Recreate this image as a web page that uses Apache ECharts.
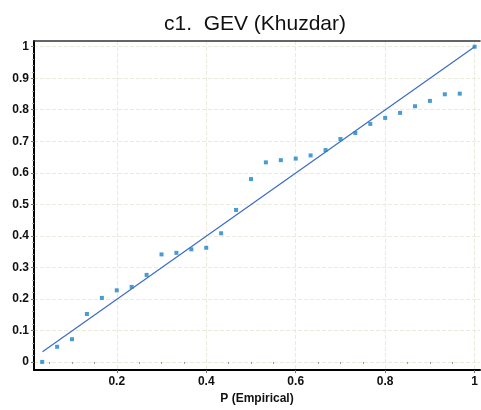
<!DOCTYPE html>
<html>
<head>
<meta charset="utf-8">
<script src="https://cdn.jsdelivr.net/npm/echarts@6/dist/echarts.min.js"></script>
<style>
html,body{margin:0;padding:0;background:#fff;}
#chart{width:481px;height:410px;}
</style>
</head>
<body>
<div id="chart"></div>
<script>
// Empirical probabilities (x) and GEV probabilities (y)
var pEmpirical = [0.0333,0.0667,0.1000,0.1333,0.1667,0.2000,0.2333,0.2667,0.3000,0.3333,
                  0.3667,0.4000,0.4333,0.4667,0.5000,0.5333,0.5667,0.6000,0.6333,0.6667,
                  0.7000,0.7333,0.7667,0.8000,0.8333,0.8667,0.9000,0.9333,0.9667,1.0000];
var pGEV = [0.000,0.048,0.072,0.152,0.203,0.227,0.238,0.276,0.341,0.346,
            0.357,0.362,0.408,0.482,0.580,0.633,0.640,0.645,0.655,0.672,
            0.707,0.726,0.755,0.774,0.790,0.811,0.828,0.849,0.851,1.000];
// fitted 1:1 line
var lineX = [0.034, 1.0];
var lineY = [0.032, 1.0];

var xTicks = [0.2, 0.4, 0.6, 0.8, 1];
var xMinorTicks = [0.05,0.1,0.15,0.25,0.3,0.35,0.45,0.5,0.55,0.65,0.7,0.75,0.85,0.9,0.95];
var yTicks = [0, 0.1, 0.2, 0.3, 0.4, 0.5, 0.6, 0.7, 0.8, 0.9, 1];
var yMinorTicks = [];
for (var k = 1; k < 50; k++) { if (k % 5 !== 0) yMinorTicks.push(Math.round(k * 2) / 100); }

var titleText = 'c1.  GEV (Khuzdar)';
var xName = 'P (Empirical)';

var pts = pEmpirical.map(function (x, i) { return [x, pGEV[i]]; });
var fit = lineX.map(function (x, i) { return [x, lineY[i]]; });

var XMIN = 0.015, XMAX = 1.012, YMIN = -0.026, YMAX = 1.018;
var gridColor = '#ebebdb';
var fontFam = '"Liberation Sans", Arial, sans-serif';

var chart = echarts.init(document.getElementById('chart'), null, {renderer: 'canvas'});
chart.setOption({
  animation: false,
  backgroundColor: '#ffffff',
  title: {
    text: titleText,
    left: 250, textAlign: 'center', top: 9,
    textStyle: {fontFamily: fontFam, fontSize: 21, fontWeight: 'normal', color: '#111'}
  },
  grid: {left: 34, right: 0, top: 41, bottom: 36, containLabel: false},
  xAxis: [
    {
      type: 'value', min: XMIN, max: XMAX, position: 'bottom',
      axisLine: {show: true, onZero: false, lineStyle: {color: '#000', width: 2}},
      axisTick: {show: true, customValues: xTicks, length: 3, lineStyle: {color: '#777'}},
      axisLabel: {customValues: xTicks, color: '#111', fontFamily: fontFam, fontSize: 12, fontWeight: 'bold', margin: 6},
      splitLine: {show: true, lineStyle: {color: gridColor, type: 'dashed', width: 1}},
      name: xName, nameLocation: 'middle', nameGap: 20,
      nameTextStyle: {color: '#111', fontFamily: fontFam, fontSize: 12, fontWeight: 'bold'}
    },
    {
      type: 'value', min: XMIN, max: XMAX, position: 'bottom',
      axisLine: {show: false},
      axisTick: {show: true, customValues: xMinorTicks, length: 2, lineStyle: {color: '#999'}},
      axisLabel: {show: false},
      splitLine: {show: false}
    },
    {
      type: 'value', min: XMIN, max: XMAX, position: 'top',
      axisLine: {show: true, onZero: false, lineStyle: {color: '#333', width: 1.5}},
      axisTick: {show: false}, axisLabel: {show: false}, splitLine: {show: false}
    }
  ],
  yAxis: [
    {
      type: 'value', min: YMIN, max: YMAX, position: 'left',
      axisLine: {show: true, onZero: false, lineStyle: {color: '#000', width: 2}},
      axisTick: {show: true, customValues: yTicks, length: 3, lineStyle: {color: '#777'}},
      axisLabel: {customValues: yTicks, color: '#111', fontFamily: fontFam, fontSize: 12, fontWeight: 'bold', margin: 5},
      splitLine: {show: true, lineStyle: {color: gridColor, type: 'dashed', width: 1}}
    },
    {
      type: 'value', min: YMIN, max: YMAX, position: 'left',
      axisLine: {show: false},
      axisTick: {show: true, customValues: yMinorTicks, length: 2, lineStyle: {color: '#aaa'}},
      axisLabel: {show: false},
      splitLine: {show: false}
    }
  ],
  series: [
    {
      type: 'line', data: fit, xAxisIndex: 0, yAxisIndex: 0,
      showSymbol: false, symbol: 'none',
      lineStyle: {color: '#3b6cc6', width: 1.2}, z: 2
    },
    {
      type: 'scatter', data: pts, xAxisIndex: 0, yAxisIndex: 0,
      symbol: 'rect', symbolSize: 4,
      itemStyle: {color: '#1b82c6'}, z: 3
    }
  ]
});
</script>
</body>
</html>
